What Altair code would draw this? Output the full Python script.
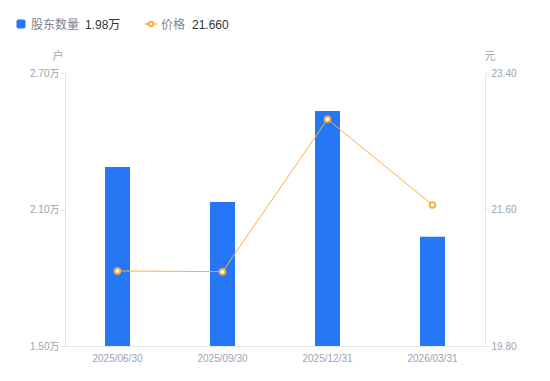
import altair as alt
import pandas as pd

dates = ["2025/06/30", "2025/09/30", "2025/12/31", "2026/03/31"]
holders = [2.287, 2.133, 2.533, 1.98]   # 万户
price = [20.79, 20.78, 22.79, 21.66]    # 元

df = pd.DataFrame({"date": dates, "holders": holders, "price": price})

BLUE = "#2677f5"
ORANGE = "#f8b03f"
GRAY = "#9ea2b3"
AXIS_LINE = "#e3e5ea"
FONT = "Liberation Sans, Noto Sans CJK SC, sans-serif"

x = alt.X("date:N", sort=dates, title=None,
          scale=alt.Scale(paddingInner=0.76, paddingOuter=0.38),
          axis=alt.Axis(labelAngle=0, labelColor=GRAY, labelFontSize=10,
                        labelFont=FONT, ticks=False, domainColor=AXIS_LINE,
                        labelPadding=7))

bars = alt.Chart(df).mark_bar(color=BLUE, size=25, clip=True).encode(
    x=x,
    y=alt.Y("holders:Q", title=None,
            scale=alt.Scale(domain=[1.5, 2.7], zero=False, nice=False),
            axis=alt.Axis(values=[1.5, 2.1, 2.7], labelExpr="format(datum.value, '.2f') + '万'",
                          labelColor=GRAY, labelFontSize=10, labelFont=FONT,
                          grid=False, domainColor=AXIS_LINE, tickColor=AXIS_LINE,
                          tickSize=4, labelPadding=2)),
    y2=alt.datum(1.5),
)

yprice = alt.Y("price:Q", title=None,
               scale=alt.Scale(domain=[19.8, 23.4], zero=False, nice=False),
               axis=alt.Axis(orient="right", values=[19.8, 21.6, 23.4], format=".2f",
                             labelColor=GRAY, labelFontSize=10, labelFont=FONT,
                             grid=False, domainColor=AXIS_LINE, tickColor=AXIS_LINE,
                             tickSize=4, labelPadding=2))

line = alt.Chart(df).mark_line(color=ORANGE, strokeWidth=1).encode(x=x, y=yprice)
pts = alt.Chart(df).mark_point(shape="circle", filled=True, fill="white", stroke=ORANGE,
                               strokeWidth=2, size=30, opacity=1).encode(x=x, y=yprice)

price_layer = alt.layer(line, pts)

# legend + axis unit titles
one = df.head(1)
leg_sq = alt.Chart(one).mark_rect(color=BLUE, cornerRadius=2).encode(
    x=alt.value(-48.5), x2=alt.value(-39.5), y=alt.value(-53.5), y2=alt.value(-44.5))
leg_t1 = alt.Chart(one).mark_text(text="股东数量", align="left", baseline="middle",
                                 fontSize=12, color="#80838f", font=FONT).encode(
    x=alt.value(-34), y=alt.value(-48))
leg_v1 = alt.Chart(one).mark_text(text="1.98万", align="left", baseline="middle",
                                 fontSize=12, color="#333333", font=FONT).encode(
    x=alt.value(20), y=alt.value(-48))
leg_ln = alt.Chart(one).mark_rule(color=ORANGE, strokeWidth=1.5).encode(
    x=alt.value(80), x2=alt.value(92), y=alt.value(-49))
leg_pt = alt.Chart(one).mark_point(shape="circle", filled=True, fill="white",
                                  stroke=ORANGE, strokeWidth=2, size=20, opacity=1).encode(
    x=alt.value(86), y=alt.value(-49))
leg_t2 = alt.Chart(one).mark_text(text="价格", align="left", baseline="middle",
                                 fontSize=12, color="#80838f", font=FONT).encode(
    x=alt.value(96), y=alt.value(-48))
leg_v2 = alt.Chart(one).mark_text(text="21.660", align="left", baseline="middle",
                                 fontSize=12, color="#333333", font=FONT).encode(
    x=alt.value(127), y=alt.value(-48))
t_hu = alt.Chart(one).mark_text(text="户", align="center", baseline="middle",
                               fontSize=11, color=GRAY, font=FONT).encode(
    x=alt.value(-7), y=alt.value(-16))
t_yuan = alt.Chart(one).mark_text(text="元", align="center", baseline="middle",
                                 fontSize=11, color=GRAY, font=FONT).encode(
    x=alt.value(425), y=alt.value(-16))

deco = alt.layer(leg_sq, leg_t1, leg_v1, leg_ln, leg_pt, leg_t2, leg_v2, t_hu, t_yuan)

chart = alt.layer(bars, price_layer, deco).resolve_scale(y="independent").properties(
    width=420, height=273,
    background="white",
    autosize=alt.AutoSizeParams(type="none"),
    padding={"left": 57, "top": 65, "right": 57, "bottom": 27},
).configure_view(strokeWidth=0, stroke=None)

chart.save("out.html", embed_options={"renderer": "svg", "actions": False})
